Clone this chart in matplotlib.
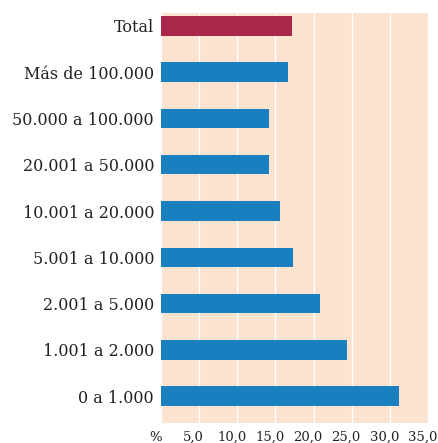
import matplotlib
matplotlib.use("Agg")
import matplotlib.pyplot as plt
from matplotlib.transforms import ScaledTranslation

categories = ["0 a 1.000", "1.001 a 2.000", "2.001 a 5.000", "5.001 a 10.000",
              "10.001 a 20.000", "20.001 a 50.000", "50.000 a 100.000",
              "Más de 100.000", "Total"]
values = [31.2, 24.4, 20.8, 17.3, 15.6, 14.1, 14.1, 16.6, 17.2]
colors = ["#1a7fbf"] * 8 + ["#a8274a"]
xticks = [0, 5, 10, 15, 20, 25, 30, 35]
xticklabels = ["%", "5,0", "10,0", "15,0", "20,0", "25,0", "30,0", "35,0"]

plt.rcParams['font.family'] = ['DejaVu Serif']

fig = plt.figure(figsize=(4.39, 4.43), dpi=100)
ax = fig.add_axes([161/439, 1 - 422.5/443, (428-161)/439, (422.5-12.5)/443])
ax.set_facecolor("#fce3cf")
ypos = list(range(len(categories)))
ax.barh(ypos, values, height=0.42, color=colors, zorder=3)
ax.set_xlim(0, 35)
ax.set_ylim(-0.57, 8.29)
ax.tick_params(axis="both", length=0)
ax.tick_params(axis="y", pad=5)
ax.tick_params(axis="x", pad=6)
ax.set_yticks(ypos, labels=categories, fontsize=11.5, color="#222222")
ax.set_xticks(xticks, labels=xticklabels, fontsize=9.5, color="#222222")
offset = ScaledTranslation(-4/72, 0, fig.dpi_scale_trans)
for lbl in ax.get_xticklabels():
    lbl.set_transform(lbl.get_transform() + offset)
ax.grid(axis="x", color="white", linewidth=1, zorder=1)
ax.grid(axis="y", visible=False)
for s in ax.spines.values():
    s.set_visible(False)

fig.savefig("out.png", dpi=100)
